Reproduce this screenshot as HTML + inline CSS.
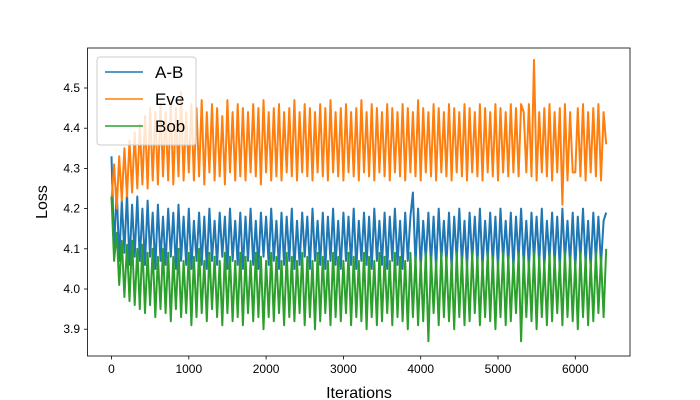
<!DOCTYPE html>
<html><head><meta charset="utf-8"><style>
body{margin:0;background:#fff}
svg{display:block;font-family:"Liberation Sans",sans-serif}
</style></head><body>
<svg id="chart" width="700" height="400">
<rect width="700" height="400" fill="#fff"/>
<g id="plot"></g>
<rect x="87.5" y="48" width="542.5" height="308" fill="none" stroke="#000" stroke-width="0.8"/>
<g id="xt"></g>
<g id="yt"></g>
<text x="359" y="398" font-size="16" text-anchor="middle">Iterations</text>
<text transform="translate(47,202) rotate(-90)" font-size="16" text-anchor="middle">Loss</text>
<g>
<rect x="97" y="57" width="99" height="88" rx="3" fill="#fff" fill-opacity="0.8" stroke="#ccc"/>
<g><line x1="105" x2="143" y1="72" y2="72" stroke="#1f77b4" stroke-width="1.5"/><text x="155" y="78" font-size="17">A-B</text></g>
<g><line x1="105" x2="143" y1="99" y2="99" stroke="#ff7f0e" stroke-width="1.5"/><text x="155" y="105" font-size="17">Eve</text></g>
<g><line x1="105" x2="143" y1="126" y2="126" stroke="#2ca02c" stroke-width="1.5"/><text x="155" y="132" font-size="17">Bob</text></g>
</g>
</svg>
<script>
const xStep = 33.33;
const xTicks = [0,1000,2000,3000,4000,5000,6000];
const yTicks = [3.9,4.0,4.1,4.2,4.3,4.4,4.5];
const abValues = [
4.33,4.10,4.25,4.07,4.22,4.09,4.24,4.06,4.21,4.08,4.23,4.07,4.20,4.06,4.22,4.08,4.19,4.05,4.21,4.07,
4.18,4.06,4.20,4.08,4.19,4.05,4.21,4.07,4.18,4.06,4.20,4.05,4.17,4.07,4.19,4.06,4.18,4.05,4.20,4.07,
4.17,4.06,4.19,4.08,4.18,4.05,4.20,4.07,4.17,4.06,4.19,4.05,4.18,4.07,4.20,4.06,4.17,4.05,4.19,4.08,
4.18,4.06,4.20,4.07,4.17,4.05,4.19,4.06,4.18,4.07,4.20,4.05,4.17,4.06,4.19,4.08,4.18,4.05,4.20,4.07,
4.17,4.06,4.19,4.05,4.18,4.07,4.20,4.06,4.17,4.05,4.19,4.07,4.18,4.06,4.20,4.05,4.17,4.07,4.19,4.06,
4.18,4.05,4.20,4.07,4.17,4.06,4.19,4.05,4.18,4.07,4.20,4.06,4.17,4.05,4.19,4.07,4.18,4.24,4.06,4.20,
4.05,4.17,4.07,4.19,4.06,4.18,4.05,4.20,4.07,4.17,4.06,4.19,4.05,4.18,4.07,4.20,4.06,4.17,4.05,4.19,
4.07,4.18,4.06,4.20,4.05,4.17,4.07,4.19,4.06,4.18,4.05,4.20,4.07,4.17,4.06,4.19,4.05,4.18,4.07,4.20,
4.06,4.17,4.05,4.19,4.07,4.18,4.06,4.20,4.05,4.17,4.07,4.19,4.06,4.18,4.05,4.20,4.07,4.17,4.06,4.19,
4.05,4.18,4.07,4.20,4.06,4.17,4.05,4.19,4.07,4.18,4.06,4.17,4.19];
const eveValues = [
4.22,4.31,4.20,4.33,4.22,4.35,4.23,4.37,4.24,4.39,4.25,4.41,4.26,4.43,4.25,4.45,4.27,4.44,4.26,4.46,
4.28,4.44,4.27,4.47,4.26,4.45,4.28,4.49,4.27,4.44,4.29,4.46,4.27,4.45,4.28,4.47,4.26,4.44,4.29,4.46,
4.27,4.45,4.28,4.43,4.26,4.47,4.29,4.44,4.27,4.46,4.28,4.45,4.27,4.44,4.29,4.46,4.28,4.45,4.26,4.47,
4.29,4.44,4.27,4.45,4.28,4.46,4.27,4.44,4.29,4.45,4.28,4.47,4.27,4.44,4.29,4.46,4.28,4.45,4.27,4.44,
4.29,4.46,4.28,4.45,4.27,4.47,4.29,4.44,4.28,4.45,4.27,4.46,4.29,4.44,4.28,4.45,4.27,4.47,4.29,4.44,
4.28,4.46,4.27,4.45,4.29,4.44,4.28,4.46,4.27,4.45,4.29,4.44,4.28,4.46,4.27,4.45,4.29,4.44,4.28,4.47,
4.27,4.45,4.29,4.44,4.28,4.46,4.27,4.45,4.29,4.44,4.28,4.46,4.27,4.45,4.29,4.44,4.28,4.46,4.27,4.45,
4.29,4.44,4.28,4.46,4.27,4.45,4.29,4.44,4.28,4.46,4.27,4.45,4.29,4.44,4.28,4.46,4.29,4.45,4.28,4.46,
4.44,4.29,4.46,4.28,4.57,4.27,4.44,4.29,4.45,4.28,4.46,4.27,4.44,4.29,4.45,4.21,4.46,4.27,4.44,4.29,
4.29,4.45,4.28,4.46,4.27,4.44,4.29,4.45,4.28,4.46,4.27,4.44,4.36];
const bobValues = [
4.23,4.07,4.14,4.01,4.12,3.98,4.11,3.97,4.12,3.96,4.10,3.95,4.11,3.94,4.09,3.96,4.10,3.93,4.08,3.95,
4.10,3.94,4.09,3.92,4.08,3.95,4.10,3.93,4.07,3.94,4.09,3.91,4.08,3.93,4.10,3.94,4.07,3.92,4.09,3.95,
4.08,3.93,4.07,3.91,4.09,3.94,4.08,3.92,4.07,3.93,4.09,3.91,4.08,3.94,4.07,3.92,4.09,3.93,4.08,3.90,
4.07,3.93,4.09,3.92,4.08,3.94,4.07,3.91,4.09,3.93,4.08,3.92,4.07,3.94,4.09,3.91,4.08,3.93,4.07,3.90,
4.09,3.92,4.08,3.94,4.07,3.91,4.09,3.93,4.08,3.92,4.07,3.94,4.09,3.91,4.08,3.93,4.07,3.92,4.09,3.90,
4.08,3.93,4.07,3.91,4.09,3.92,4.08,3.94,4.07,3.91,4.09,3.93,4.08,3.92,4.07,3.90,4.09,3.93,4.08,3.91,
4.07,3.92,4.09,3.87,4.08,3.94,4.07,3.91,4.09,3.93,4.08,3.92,4.07,3.90,4.09,3.93,4.08,3.91,4.07,3.92,
4.09,3.94,4.08,3.91,4.07,3.93,4.09,3.92,4.08,3.90,4.07,3.93,4.09,3.91,4.08,3.92,4.07,3.94,4.09,3.87,
4.08,3.93,4.07,3.92,4.09,3.90,4.08,3.93,4.07,3.91,4.09,3.92,4.08,3.94,4.07,3.91,4.09,3.93,4.08,3.92,
4.07,3.90,4.09,3.93,4.08,3.91,4.07,3.92,4.09,3.94,4.08,3.93,4.10];

const NS="http://www.w3.org/2000/svg";
function xs(v){return 111.5+v*0.0773;}
function ys(v){return 289-(v-4.0)*402;}
const plot=document.getElementById('plot');
function drawSeries(vals,color,name){
  const p=document.createElementNS(NS,'polyline');
  p.setAttribute('points',vals.map((v,i)=>xs(i*xStep).toFixed(1)+','+ys(v).toFixed(1)).join(' '));
  p.setAttribute('fill','none');p.setAttribute('stroke',color);p.setAttribute('stroke-width','2');
  p.setAttribute('stroke-linejoin','round');
  
  
  plot.appendChild(p);
}
drawSeries(abValues,'#1f77b4','line-ab');
drawSeries(eveValues,'#ff7f0e','line-eve');
drawSeries(bobValues,'#2ca02c','line-bob');
const xt=document.getElementById('xt');
xTicks.forEach(t=>{
  const x=xs(t);
  const l=document.createElementNS(NS,'line');
  l.setAttribute('x1',x);l.setAttribute('x2',x);l.setAttribute('y1',356);l.setAttribute('y2',359.5);l.setAttribute('stroke','#000');l.setAttribute('stroke-width','0.8');
  
  
  xt.appendChild(l);
  const s=document.createElementNS(NS,'text');
  s.setAttribute('x',x);s.setAttribute('y',373);s.setAttribute('font-size','12');s.setAttribute('text-anchor','middle');
  s.textContent=t;
  
  
  xt.appendChild(s);
});
const yt=document.getElementById('yt');
yTicks.forEach(t=>{
  const y=ys(t);
  const l=document.createElementNS(NS,'line');
  l.setAttribute('x1',84);l.setAttribute('x2',87.5);l.setAttribute('y1',y);l.setAttribute('y2',y);l.setAttribute('stroke','#000');l.setAttribute('stroke-width','0.8');
  
  
  yt.appendChild(l);
  const s=document.createElementNS(NS,'text');
  s.setAttribute('x',80);s.setAttribute('y',y+4);s.setAttribute('font-size','12');s.setAttribute('text-anchor','end');
  s.textContent=t.toFixed(1);
  
  
  yt.appendChild(s);
});
</script>
</body></html>
